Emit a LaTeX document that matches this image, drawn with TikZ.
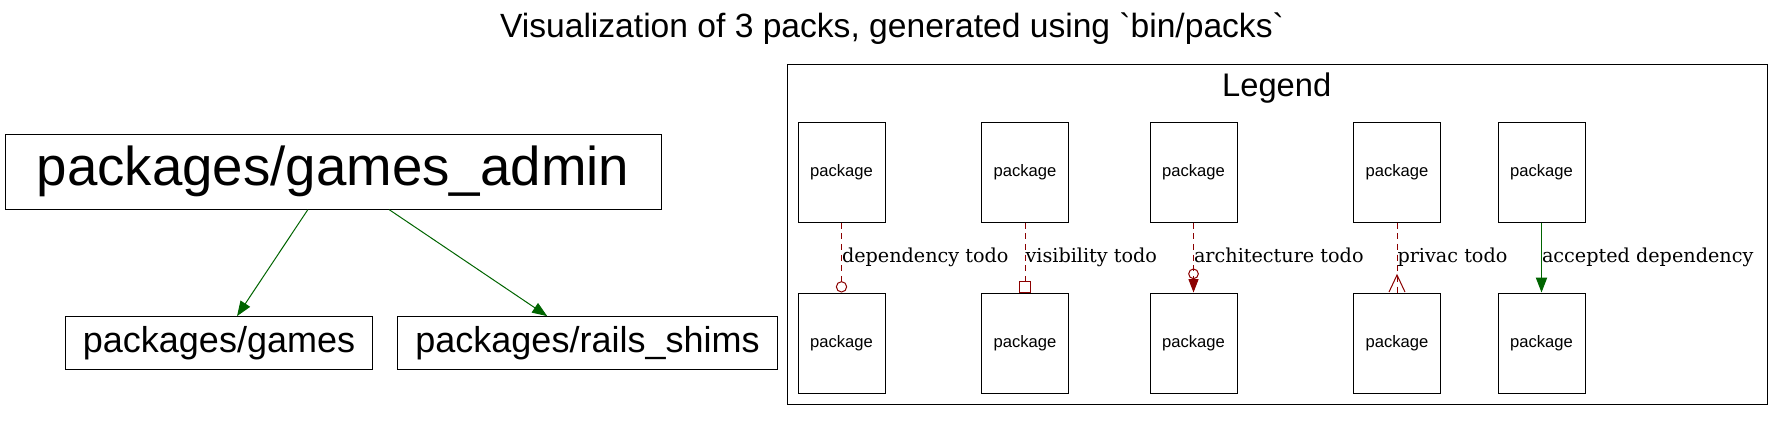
\documentclass[tikz,border=0pt]{standalone}
\usepackage{fontspec}
\newfontfamily\pkgfont{Liberation Sans}
\newfontfamily\lblfont{DejaVu Serif}
\usetikzlibrary{arrows.meta}
\definecolor{gvgreen}{HTML}{006400}
\definecolor{gvred}{HTML}{8B0000}

\begin{document}
\begin{tikzpicture}[x=0.75pt,y=-0.75pt,line width=0.75pt,
			every node/.style={inner sep=0pt},
			heading/.style={font=\pkgfont\fontsize{25.2pt}{30pt}\selectfont,anchor=base},
			bigpack/.style={draw,minimum width=492pt,minimum height=56.25pt,
				font=\pkgfont\fontsize{41pt}{48pt}\selectfont},
			midpack/.style={draw,minimum height=40pt,
				font=\pkgfont\fontsize{27pt}{32pt}\selectfont},
			pack/.style={draw,minimum width=65.25pt,minimum height=75pt,
				font=\pkgfont\fontsize{12.45pt}{15pt}\selectfont},
			lbl/.style={anchor=west,text=black,text height=1.05em,text depth=0.3em,
				font=\lblfont\fontsize{14.4pt}{17pt}\selectfont},
			dep/.style={gvgreen,-{Triangle[length=11.25pt,width=8.5pt]}},
			todo/.style={gvred,dash pattern=on 4.5pt off 3.5pt}]

		% title
		\node [heading] (title) at (892,37.3)
			{Visualization of 3 packs, generated using \textasciigrave bin/packs\textasciigrave};

		% packs
		\node [midpack, minimum width=230.25pt] (games) at (219,343.3) {packages/games};
		\node [midpack, minimum width=285pt] (rails) at (587.5,343.3) {packages/rails\_shims};
		\node [bigpack] (admin) at (333,171.7) {packages/games\_admin}
			edge [dep] (games)
			edge [dep] (rails);

		% legend
		\node [draw, minimum width=735pt, minimum height=255pt] (legend) at (1277,234) {};
		\node [heading, font=\pkgfont\fontsize{24.5pt}{29pt}\selectfont] (legendtitle)
			at (1276.7,96) {Legend};

		\node [pack] (lt1) at (841.5,343) {package};
		\node [pack] (lt2) at (1025,343) {package};
		\node [pack] (lt3) at (1193.5,343) {package};
		\node [pack] (lt4) at (1397,343) {package};
		\node [pack] (lt5) at (1541.5,343) {package};

		\node [pack] (ls1) at (841.5,172) {package}
			edge [todo, -{Circle[open,length=8.5pt]}] node [lbl] {dependency todo} (lt1);
		\node [pack] (ls2) at (1025,172) {package}
			edge [todo, -{Square[open,length=8.5pt,width=8.5pt]}] node [lbl] {visibility todo} (lt2);
		\node [pack] (ls3) at (1193.5,172) {package}
			edge [todo, -{Circle[open,length=8pt] Triangle[length=10pt,width=7.5pt]}]
				node [lbl] {architecture todo} (lt3);
		\node [pack] (ls4) at (1397,172) {package}
			edge [todo] node [lbl] {privac todo} (lt4)
			edge [todo, -{Straight Barb[reversed,length=12.75pt,width=12pt]}] (lt4);
		\node [pack] (ls5) at (1541.5,172) {package}
			edge [dep] node [lbl] {accepted dependency} (lt5);

		\useasboundingbox (0,0) rectangle (1783,421);
		\end{tikzpicture}
\end{document}
